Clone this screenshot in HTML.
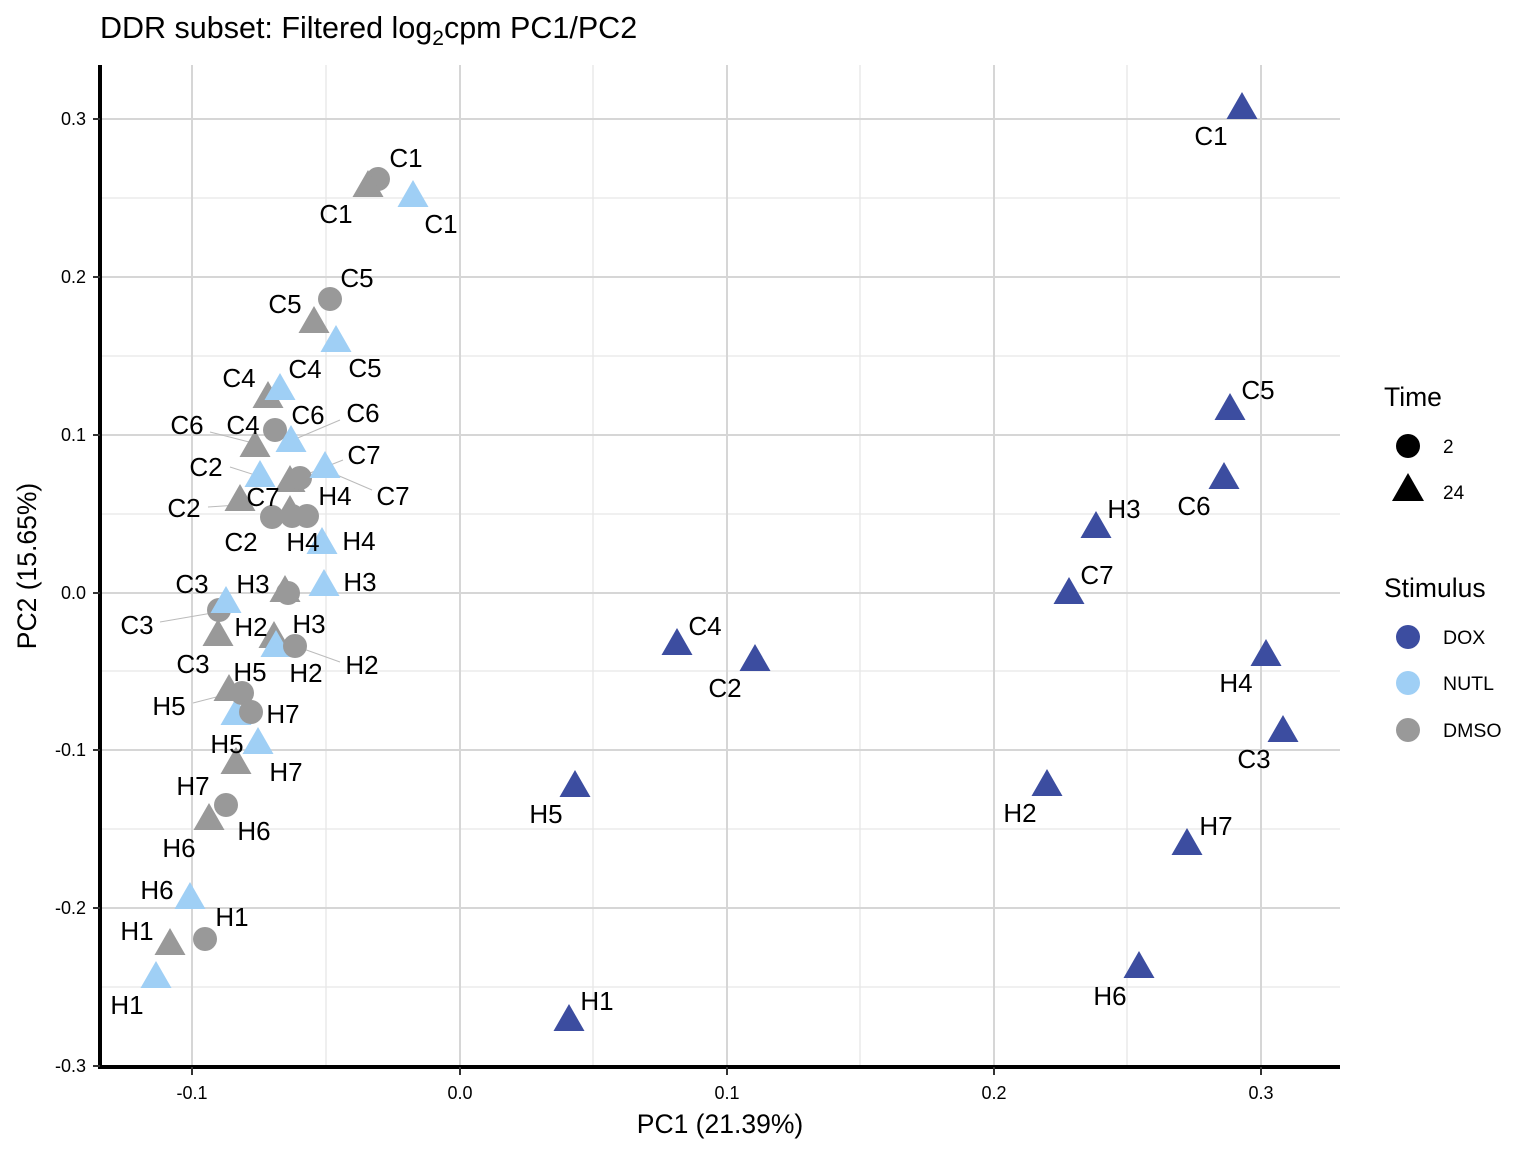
<!DOCTYPE html>
<html><head><meta charset="utf-8"><style>body{margin:0;background:#fff}svg{display:block;font-family:"Liberation Sans",Arial,sans-serif}</style></head><body>
<svg width="1536" height="1152" viewBox="0 0 1536 1152" xmlns="http://www.w3.org/2000/svg">
<defs>
<path id="t" d="M0,-17 L-15.5,10 L15.5,10 Z"/>
</defs>
<text x="100" y="38" font-size="30.5">DDR subset: Filtered log<tspan font-size="21" dy="7">2</tspan><tspan dy="-7">cpm PC1/PC2</tspan></text>
<g stroke="#e6e6e6" stroke-width="1.3">
<line x1="326" y1="65" x2="326" y2="1066"/><line x1="593" y1="65" x2="593" y2="1066"/><line x1="860" y1="65" x2="860" y2="1066"/><line x1="1127" y1="65" x2="1127" y2="1066"/>
<line x1="100" y1="198" x2="1340" y2="198"/><line x1="100" y1="356" x2="1340" y2="356"/><line x1="100" y1="514" x2="1340" y2="514"/><line x1="100" y1="671" x2="1340" y2="671"/><line x1="100" y1="829" x2="1340" y2="829"/><line x1="100" y1="987" x2="1340" y2="987"/>
</g>
<g stroke="#d6d6d6" stroke-width="2">
<line x1="192" y1="65" x2="192" y2="1066"/><line x1="460" y1="65" x2="460" y2="1066"/><line x1="727" y1="65" x2="727" y2="1066"/><line x1="994" y1="65" x2="994" y2="1066"/><line x1="1261" y1="65" x2="1261" y2="1066"/>
<line x1="100" y1="119" x2="1340" y2="119"/><line x1="100" y1="277" x2="1340" y2="277"/><line x1="100" y1="435" x2="1340" y2="435"/><line x1="100" y1="593" x2="1340" y2="593"/><line x1="100" y1="750" x2="1340" y2="750"/><line x1="100" y1="908" x2="1340" y2="908"/>
</g>
<g stroke="#000" stroke-width="4">
<line x1="100" y1="65" x2="100" y2="1069"/><line x1="98" y1="1067" x2="1340" y2="1067"/>
</g>
<g stroke="#333" stroke-width="2">
<line x1="93" y1="119" x2="100" y2="119"/><line x1="93" y1="277" x2="100" y2="277"/><line x1="93" y1="435" x2="100" y2="435"/><line x1="93" y1="593" x2="100" y2="593"/><line x1="93" y1="750" x2="100" y2="750"/><line x1="93" y1="908" x2="100" y2="908"/><line x1="93" y1="1066" x2="100" y2="1066"/>
<line x1="192" y1="1067" x2="192" y2="1075"/><line x1="460" y1="1067" x2="460" y2="1075"/><line x1="727" y1="1067" x2="727" y2="1075"/><line x1="994" y1="1067" x2="994" y2="1075"/><line x1="1261" y1="1067" x2="1261" y2="1075"/>
</g>
<g font-size="18" text-anchor="end" fill="#000">
<text x="86" y="125">0.3</text><text x="86" y="283">0.2</text><text x="86" y="441">0.1</text><text x="86" y="599">0.0</text><text x="86" y="756">-0.1</text><text x="86" y="914">-0.2</text><text x="86" y="1072">-0.3</text>
</g>
<g font-size="18" text-anchor="middle">
<text x="192" y="1099">-0.1</text><text x="460" y="1099">0.0</text><text x="727" y="1099">0.1</text><text x="994" y="1099">0.2</text><text x="1261" y="1099">0.3</text>
</g>
<text x="720" y="1133" font-size="26.5" text-anchor="middle">PC1 (21.39%)</text>
<text transform="translate(36,566) rotate(-90)" font-size="26.5" text-anchor="middle">PC2 (15.65%)</text>

<g stroke="#bbb" stroke-width="1">
<line x1="210" y1="432" x2="253" y2="443"/><line x1="340" y1="420" x2="293" y2="440"/>
<line x1="230" y1="467" x2="258" y2="476"/><line x1="343" y1="460" x2="305" y2="475"/>
<line x1="372" y1="490" x2="330" y2="472"/><line x1="208" y1="507" x2="238" y2="505"/>
<line x1="160" y1="622" x2="218" y2="612"/><line x1="340" y1="662" x2="298" y2="647"/>
<line x1="193" y1="703" x2="228" y2="694"/>
</g>

<g fill="#999">
<circle cx="378" cy="179" r="12"/><use href="#t" x="368" y="187"/>
<circle cx="330" cy="299" r="12"/><use href="#t" x="314" y="323"/>
<use href="#t" x="268" y="398"/><circle cx="275" cy="430" r="12"/>
<use href="#t" x="255" y="447"/>
<use href="#t" x="290" y="482"/><circle cx="300" cy="478" r="12"/>
<use href="#t" x="240" y="501"/>
<use href="#t" x="290" y="512"/><circle cx="272" cy="517" r="12"/><circle cx="292" cy="516" r="12"/><circle cx="307" cy="516" r="12"/>
<use href="#t" x="285" y="592"/><circle cx="288" cy="593" r="12"/>
<circle cx="219" cy="610" r="12"/>
<use href="#t" x="218" y="636"/>
<use href="#t" x="274" y="638"/>
</g>
<g fill="#9fcff5">
<use href="#t" x="413" y="197"/>
<use href="#t" x="336" y="342"/>
<use href="#t" x="280" y="390"/>
<use href="#t" x="291" y="442"/>
<use href="#t" x="260" y="477"/>
<use href="#t" x="325" y="468"/>
<use href="#t" x="322" y="544"/>
<use href="#t" x="324" y="586"/>
<use href="#t" x="226" y="603"/>
<use href="#t" x="276" y="647"/>
<use href="#t" x="236" y="715"/>
<use href="#t" x="258" y="744"/>
<use href="#t" x="190" y="899"/>
<use href="#t" x="156" y="978"/>
</g>
<g fill="#999">
<circle cx="295" cy="646" r="12"/>
<use href="#t" x="229" y="691"/><circle cx="242" cy="693" r="12"/>
<circle cx="251" cy="712" r="12"/>
<use href="#t" x="236" y="764"/>
<circle cx="226" cy="805" r="12"/>
<use href="#t" x="209" y="820"/>
<circle cx="205" cy="939" r="12"/>
<use href="#t" x="170" y="945"/>
</g>
<g fill="#3c4da0">
<use href="#t" x="1242" y="109"/><use href="#t" x="1230" y="410"/><use href="#t" x="1224" y="479"/>
<use href="#t" x="1096" y="528"/><use href="#t" x="1069" y="594"/><use href="#t" x="677" y="645"/>
<use href="#t" x="755" y="661"/><use href="#t" x="1266" y="656"/><use href="#t" x="1283" y="732"/>
<use href="#t" x="575" y="787"/><use href="#t" x="1047" y="786"/><use href="#t" x="1187" y="845"/>
<use href="#t" x="1139" y="968"/><use href="#t" x="569" y="1021"/>
</g>

<g font-size="26" text-anchor="middle" dominant-baseline="central">
<text x="406" y="158">C1</text><text x="336" y="214">C1</text><text x="441" y="224">C1</text>
<text x="357" y="278">C5</text><text x="285" y="304">C5</text><text x="365" y="368">C5</text>
<text x="239" y="378">C4</text><text x="305" y="369">C4</text><text x="243" y="425">C4</text>
<text x="187" y="425">C6</text><text x="308" y="415">C6</text><text x="363" y="413">C6</text>
<text x="206" y="467">C2</text><text x="184" y="508">C2</text><text x="241" y="542">C2</text>
<text x="364" y="455">C7</text><text x="393" y="496">C7</text><text x="263" y="497">C7</text>
<text x="335" y="496">H4</text><text x="303" y="542">H4</text><text x="359" y="541">H4</text>
<text x="192" y="584">C3</text><text x="137" y="625">C3</text><text x="193" y="664">C3</text>
<text x="253" y="584">H3</text><text x="360" y="582">H3</text><text x="309" y="624">H3</text>
<text x="251" y="627">H2</text><text x="306" y="673">H2</text><text x="362" y="665">H2</text>
<text x="250" y="672">H5</text><text x="169" y="706">H5</text><text x="227" y="744">H5</text>
<text x="283" y="714">H7</text><text x="286" y="772">H7</text><text x="193" y="786">H7</text>
<text x="254" y="831">H6</text><text x="179" y="848">H6</text><text x="157" y="890">H6</text>
<text x="232" y="917">H1</text><text x="137" y="931">H1</text><text x="127" y="1005">H1</text>
<text x="1211" y="136">C1</text><text x="1258" y="390">C5</text><text x="1194" y="506">C6</text>
<text x="1124" y="509">H3</text><text x="1097" y="575">C7</text><text x="705" y="626">C4</text>
<text x="725" y="688">C2</text><text x="1236" y="683">H4</text><text x="1254" y="759">C3</text>
<text x="546" y="814">H5</text><text x="1020" y="813">H2</text><text x="1216" y="826">H7</text>
<text x="1110" y="996">H6</text><text x="597" y="1001">H1</text>
</g>

<text x="1384" y="406" font-size="26.5">Time</text>
<circle cx="1408" cy="446" r="12"/>
<path d="M1408,473 L1392,501 L1424,501 Z"/>
<text x="1443" y="453" font-size="19">2</text>
<text x="1443" y="499" font-size="19">24</text>
<text x="1384" y="597" font-size="26.5">Stimulus</text>
<circle cx="1408" cy="637" r="12" fill="#3c4da0"/>
<circle cx="1408" cy="683" r="12" fill="#9fcff5"/>
<circle cx="1408" cy="730" r="12" fill="#999"/>
<text x="1443" y="644" font-size="19.5">DOX</text>
<text x="1443" y="690" font-size="19.5">NUTL</text>
<text x="1443" y="737" font-size="19.5">DMSO</text>
</svg>
</body></html>
